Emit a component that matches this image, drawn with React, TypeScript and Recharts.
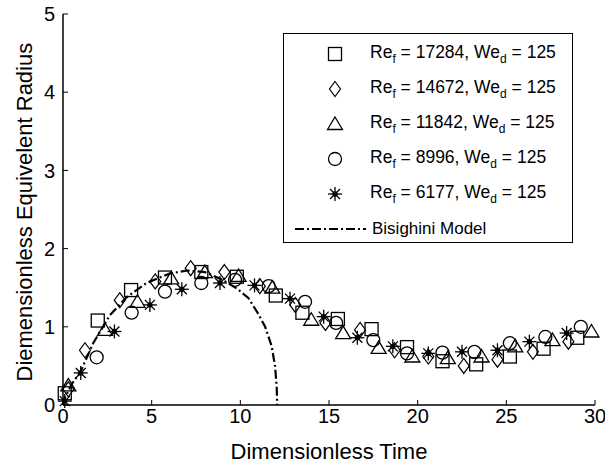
import React from "react";
import { ScatterChart, Scatter, XAxis, YAxis } from "recharts";

// Dimensionless time / radius
const re17284 = [
  { t: 0.1, r: 0.15 }, { t: 1.96, r: 1.08 }, { t: 3.84, r: 1.47 }, { t: 5.75, r: 1.63 },
  { t: 7.8, r: 1.7 }, { t: 9.8, r: 1.64 }, { t: 12.0, r: 1.4 }, { t: 13.5, r: 1.18 },
  { t: 15.5, r: 1.1 }, { t: 17.4, r: 0.97 }, { t: 19.4, r: 0.74 }, { t: 21.4, r: 0.56 },
  { t: 23.3, r: 0.52 }, { t: 25.2, r: 0.62 }, { t: 27.1, r: 0.72 }, { t: 29.0, r: 0.86 },
];
const re14672 = [
  { t: 0.3, r: 0.2 }, { t: 1.24, r: 0.7 }, { t: 3.2, r: 1.34 }, { t: 5.2, r: 1.58 },
  { t: 7.2, r: 1.75 }, { t: 9.1, r: 1.7 }, { t: 11.1, r: 1.52 }, { t: 13.1, r: 1.28 },
  { t: 14.8, r: 1.05 }, { t: 16.75, r: 0.96 }, { t: 18.7, r: 0.7 }, { t: 20.6, r: 0.62 },
  { t: 22.6, r: 0.5 }, { t: 24.5, r: 0.58 }, { t: 26.5, r: 0.68 }, { t: 28.5, r: 0.81 },
];
const re11842 = [
  { t: 0.3, r: 0.25 }, { t: 2.37, r: 0.96 }, { t: 4.2, r: 1.32 }, { t: 6.1, r: 1.62 },
  { t: 8.0, r: 1.7 }, { t: 9.9, r: 1.65 }, { t: 11.8, r: 1.5 }, { t: 14.0, r: 1.09 },
  { t: 15.8, r: 0.92 }, { t: 17.8, r: 0.73 }, { t: 19.7, r: 0.62 }, { t: 21.7, r: 0.6 },
  { t: 23.6, r: 0.62 }, { t: 25.5, r: 0.75 }, { t: 27.6, r: 0.83 }, { t: 29.8, r: 0.94 },
];
const re8996 = [
  { t: 1.9, r: 0.61 }, { t: 3.87, r: 1.18 }, { t: 5.75, r: 1.45 }, { t: 7.8, r: 1.56 },
  { t: 9.7, r: 1.6 }, { t: 11.6, r: 1.52 }, { t: 13.65, r: 1.32 }, { t: 15.4, r: 1.05 },
  { t: 17.5, r: 0.83 }, { t: 19.4, r: 0.66 }, { t: 21.4, r: 0.67 }, { t: 23.2, r: 0.68 },
  { t: 25.2, r: 0.79 }, { t: 27.2, r: 0.87 }, { t: 29.2, r: 1.0 },
];
const re6177 = [
  { t: 0.1, r: 0.05 }, { t: 1.0, r: 0.41 }, { t: 2.9, r: 0.94 }, { t: 4.9, r: 1.28 },
  { t: 6.7, r: 1.48 }, { t: 8.85, r: 1.56 }, { t: 10.8, r: 1.53 }, { t: 12.8, r: 1.36 },
  { t: 14.7, r: 1.13 }, { t: 16.6, r: 0.86 }, { t: 18.6, r: 0.75 }, { t: 20.6, r: 0.66 },
  { t: 22.5, r: 0.68 }, { t: 24.5, r: 0.7 }, { t: 26.3, r: 0.81 }, { t: 28.4, r: 0.92 },
];
// Bisighini crater model
const bisighini = [
  { t: 0, r: 0 }, { t: 0.1, r: 0.09 }, { t: 0.5, r: 0.27 }, { t: 1.0, r: 0.43 },
  { t: 1.7, r: 0.79 }, { t: 2.65, r: 1.15 }, { t: 3.6, r: 1.38 }, { t: 4.7, r: 1.56 },
  { t: 6.0, r: 1.68 }, { t: 7.0, r: 1.72 }, { t: 8.0, r: 1.7 }, { t: 9.0, r: 1.6 },
  { t: 9.8, r: 1.49 }, { t: 10.45, r: 1.37 }, { t: 11.0, r: 1.17 }, { t: 11.4, r: 1.0 },
  { t: 11.77, r: 0.75 }, { t: 11.96, r: 0.49 }, { t: 12.05, r: 0.23 }, { t: 12.08, r: 0 },
];

const xTicks = [0, 5, 10, 15, 20, 25, 30];
const yTicks = [0, 1, 2, 3, 4, 5];
const reLabels = ["17284", "14672", "11842", "8996", "6177"];

const FONT = "'Liberation Sans', Arial, sans-serif";
const K = "#000";

// marcadores estilo MATLAB
const Square = ({ cx, cy }: any) => (
  <rect x={cx - 6.5} y={cy - 6.5} width={13} height={13} fill="none" stroke={K} strokeWidth={1.3} />
);
const Diamond = ({ cx, cy }: any) => (
  <polygon points={`${cx},${cy - 7.5} ${cx + 5.5},${cy} ${cx},${cy + 7.5} ${cx - 5.5},${cy}`} fill="none" stroke={K} strokeWidth={1.2} />
);
const Triangle = ({ cx, cy }: any) => (
  <polygon points={`${cx},${cy - 7} ${cx + 7.5},${cy + 5.5} ${cx - 7.5},${cy + 5.5}`} fill="none" stroke={K} strokeWidth={1.3} />
);
const Circle = ({ cx, cy }: any) => (
  <circle cx={cx} cy={cy} r={6.5} fill="none" stroke={K} strokeWidth={1.3} />
);
const Star = ({ cx, cy }: any) => (
  <g stroke={K} strokeWidth={1.3}>
    <line x1={cx - 7} y1={cy} x2={cx + 7} y2={cy} />
    <line x1={cx} y1={cy - 7} x2={cx} y2={cy + 7} />
    <line x1={cx - 5} y1={cy - 5} x2={cx + 5} y2={cy + 5} />
    <line x1={cx - 5} y1={cy + 5} x2={cx + 5} y2={cy - 5} />
    <circle cx={cx} cy={cy} r={2} fill={K} />
  </g>
);
const NoDot = () => <g />;

const shapes = [Square, Diamond, Triangle, Circle, Star];

function LegendBox() {
  return (
    <div
      style={{
        position: "absolute", left: 283, top: 33, width: 288, height: 208,
        border: "1.5px solid #000", background: "#fff", fontFamily: FONT, fontSize: 17.5,
      }}
    >
      {reLabels.map((re, i) => {
        const Shape = shapes[i];
        return (
          <div key={re} style={{ position: "absolute", left: 0, top: 6 + i * 35, height: 28, display: "flex", alignItems: "center" }}>
            <svg width={86} height={28} style={{ display: "block" }}>
              <Shape cx={51} cy={14} />
            </svg>
            <span style={{ whiteSpace: "nowrap" }}>
              Re<sub style={{ fontSize: 12 }}>f</sub> = {re}, We<sub style={{ fontSize: 12 }}>d</sub> = 125
            </span>
          </div>
        );
      })}
      <div style={{ position: "absolute", left: 0, top: 6 + 5 * 35, height: 28, display: "flex", alignItems: "center" }}>
        <svg width={88} height={28} style={{ display: "block" }}>
          <line x1={11} y1={14} x2={82} y2={14} stroke={K} strokeWidth={2.2} strokeDasharray="9 3 2 3" />
        </svg>
        <span style={{ whiteSpace: "nowrap", fontSize: 17 }}>Bisighini Model</span>
      </div>
    </div>
  );
}

export default function App() {
  const tick = { fontSize: 20, fill: "#000", fontFamily: FONT };
  return (
    <div style={{ position: "absolute", left: 0, top: 0, width: 605, height: 467, background: "#fff" }}>
      <ScatterChart width={605} height={467} margin={{ top: 14, right: 10, bottom: 0, left: 0 }}>
        <XAxis
          dataKey="t" type="number" domain={[0, 30]} ticks={xTicks} height={62}
          tick={tick} tickSize={-5} tickMargin={9}
          axisLine={{ stroke: K, strokeWidth: 1.5 }} tickLine={{ stroke: K }}
          label={{ value: "Dimensionless Time", position: "insideBottom", offset: 8, style: { fontSize: 22, fill: "#000", fontFamily: FONT } }}
        />
        <XAxis
          xAxisId="top" orientation="top" dataKey="t" type="number" domain={[0, 30]} ticks={xTicks}
          height={0} tick={false} tickSize={-5} axisLine={{ stroke: K, strokeWidth: 1.5 }} tickLine={{ stroke: K }}
        />
        <YAxis
          dataKey="r" type="number" domain={[0, 5]} ticks={yTicks} width={63}
          tick={tick} tickSize={-5} tickMargin={13}
          axisLine={{ stroke: K, strokeWidth: 1.5 }} tickLine={{ stroke: K }}
          label={{ value: "Diemensionless Equivelent Radius", angle: -90, position: "insideLeft", offset: 24, dy: 172, style: { fontSize: 22, fill: "#000", fontFamily: FONT } }}
        />
        <YAxis
          yAxisId="right" orientation="right" dataKey="r" type="number" domain={[0, 5]} ticks={yTicks}
          width={0} tick={false} tickSize={-5} axisLine={{ stroke: K, strokeWidth: 1.5 }} tickLine={{ stroke: K }}
        />
        <Scatter data={bisighini} shape={NoDot} line={{ stroke: K, strokeWidth: 2.2, strokeDasharray: "9 3 2 3" }} lineType="joint" isAnimationActive={false} />
        <Scatter data={re17284} shape={Square} isAnimationActive={false} />
        <Scatter data={re14672} shape={Diamond} isAnimationActive={false} />
        <Scatter data={re11842} shape={Triangle} isAnimationActive={false} />
        <Scatter data={re8996} shape={Circle} isAnimationActive={false} />
        <Scatter data={re6177} shape={Star} isAnimationActive={false} />
      </ScatterChart>
      <LegendBox />
    </div>
  );
}
